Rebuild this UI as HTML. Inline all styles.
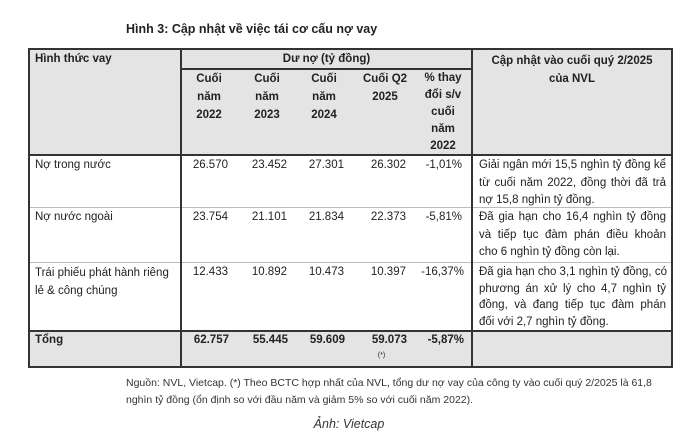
<!DOCTYPE html>
<html><head><meta charset="utf-8"><style>
body{margin:0;width:698px;height:436px;background:#fff;font-family:"Liberation Sans",sans-serif;color:#222;position:relative;overflow:hidden}
.a{position:absolute;white-space:nowrap;font-size:11.5px;line-height:17px}
.c{text-align:center}
.r{text-align:right}
.b{font-weight:bold}
.j{white-space:normal;text-align:justify;width:187px}
.jl{display:block;text-align:justify;text-align-last:justify;width:187px;white-space:nowrap}
.bg{position:absolute;background:#e4e4e4}
.h{position:absolute;background:#333;height:2px}
.v{position:absolute;background:#333;width:2px}
.lh{position:absolute;background:#bbb;height:1px}
</style></head><body>
<div class="a b" style="left:126px;top:21px;font-size:12.5px">Hình 3: Cập nhật về việc tái cơ cấu nợ vay</div>
<div class="bg" style="left:29px;top:50px;width:643px;height:105px"></div>
<div class="bg" style="left:29px;top:332px;width:643px;height:35px"></div>
<div class="h" style="left:28px;top:48px;width:645px"></div>
<div class="h" style="left:28px;top:154px;width:645px"></div>
<div class="h" style="left:28px;top:330px;width:645px"></div>
<div class="h" style="left:28px;top:366px;width:645px"></div>
<div class="lh" style="left:181px;top:68px;width:291px;background:#333;height:2px"></div>
<div class="lh" style="left:29px;top:207px;width:643px"></div>
<div class="lh" style="left:29px;top:262px;width:643px"></div>
<div class="v" style="left:28px;top:48px;height:320px"></div>
<div class="v" style="left:180px;top:48px;height:320px"></div>
<div class="v" style="left:471px;top:48px;height:320px"></div>
<div class="v" style="left:671px;top:48px;height:320px"></div>

<div class="a b" style="left:35px;top:51px">Hình thức vay</div>
<div class="a b c" style="left:181px;top:51px;width:291px">Dư nợ (tỷ đồng)</div>
<div class="a b c" style="left:472px;top:52px;width:200px;line-height:18px">Cập nhật vào cuối quý 2/2025<br>của NVL</div>
<div class="a b c" style="left:184px;top:70px;width:50px;line-height:18px">Cuối<br>năm<br>2022</div>
<div class="a b c" style="left:242px;top:70px;width:50px;line-height:18px">Cuối<br>năm<br>2023</div>
<div class="a b c" style="left:299px;top:70px;width:50px;line-height:18px">Cuối<br>năm<br>2024</div>
<div class="a b c" style="left:355px;top:70px;width:60px;line-height:18px">Cuối Q2<br>2025</div>
<div class="a b c" style="left:418px;top:70px;width:50px;line-height:17px">% thay<br>đổi s/v<br>cuối<br>năm<br>2022</div>

<div class="a" style="left:35px;top:157px">Nợ trong nước</div>
<div class="a r" style="left:180px;top:157px;width:48px">26.570</div>
<div class="a r" style="left:240px;top:157px;width:47px">23.452</div>
<div class="a r" style="left:296px;top:157px;width:48px">27.301</div>
<div class="a r" style="left:356px;top:157px;width:50px">26.302</div>
<div class="a r" style="left:414px;top:157px;width:48px">-1,01%</div>
<div class="a j" style="left:479px;top:157px;line-height:17.5px">Giải ngân mới 15,5 nghìn tỷ đồng kể từ cuối năm 2022, đồng thời đã trả nợ 15,8 nghìn tỷ đồng.</div>

<div class="a" style="left:35px;top:209px">Nợ nước ngoài</div>
<div class="a r" style="left:180px;top:209px;width:48px">23.754</div>
<div class="a r" style="left:240px;top:209px;width:47px">21.101</div>
<div class="a r" style="left:296px;top:209px;width:48px">21.834</div>
<div class="a r" style="left:356px;top:209px;width:50px">22.373</div>
<div class="a r" style="left:414px;top:209px;width:48px">-5,81%</div>
<div class="a j" style="left:479px;top:209px;line-height:17.5px">Đã gia hạn cho 16,4 nghìn tỷ đồng và tiếp tục đàm phán điều khoản cho 6 nghìn tỷ đồng còn lại.</div>

<div class="a" style="left:35px;top:264px;line-height:18px">Trái phiếu phát hành riêng<br>lẻ &amp; công chúng</div>
<div class="a r" style="left:180px;top:264px;width:48px">12.433</div>
<div class="a r" style="left:240px;top:264px;width:47px">10.892</div>
<div class="a r" style="left:296px;top:264px;width:48px">10.473</div>
<div class="a r" style="left:356px;top:264px;width:50px">10.397</div>
<div class="a r" style="left:414px;top:264px;width:50px">-16,37%</div>
<div class="a" style="left:479px;top:264px;line-height:16.5px"><span class="jl">Đã gia hạn cho 3,1 nghìn tỷ đồng, có</span><span class="jl">phương án xử lý cho 4,7 nghìn tỷ</span><span class="jl">đồng, và đang tiếp tục đàm phán</span><span style="display:block">đối với 2,7 nghìn tỷ đồng.</span></div>

<div class="a b" style="left:35px;top:332px">Tổng</div>
<div class="a b r" style="left:180px;top:332px;width:49px">62.757</div>
<div class="a b r" style="left:240px;top:332px;width:48px">55.445</div>
<div class="a b r" style="left:296px;top:332px;width:49px">59.609</div>
<div class="a b r" style="left:356px;top:332px;width:51px">59.073</div>
<div class="a c" style="left:356px;top:347px;width:51px;font-size:7px">(*)</div>
<div class="a b r" style="left:414px;top:332px;width:50px">-5,87%</div>

<div class="a" style="left:126px;top:375px;font-size:10.5px;line-height:17px;color:#333">Nguồn: NVL, Vietcap. (*) Theo BCTC hợp nhất của NVL, tổng dư nợ vay của công ty vào cuối quý 2/2025 là 61,8<br>nghìn tỷ đồng (ổn định so với đầu năm và giảm 5% so với cuối năm 2022).</div>
<div class="a c" style="left:0;top:416px;width:698px;font-style:italic;font-size:12.5px;color:#333">Ảnh: Vietcap</div>
</body></html>
